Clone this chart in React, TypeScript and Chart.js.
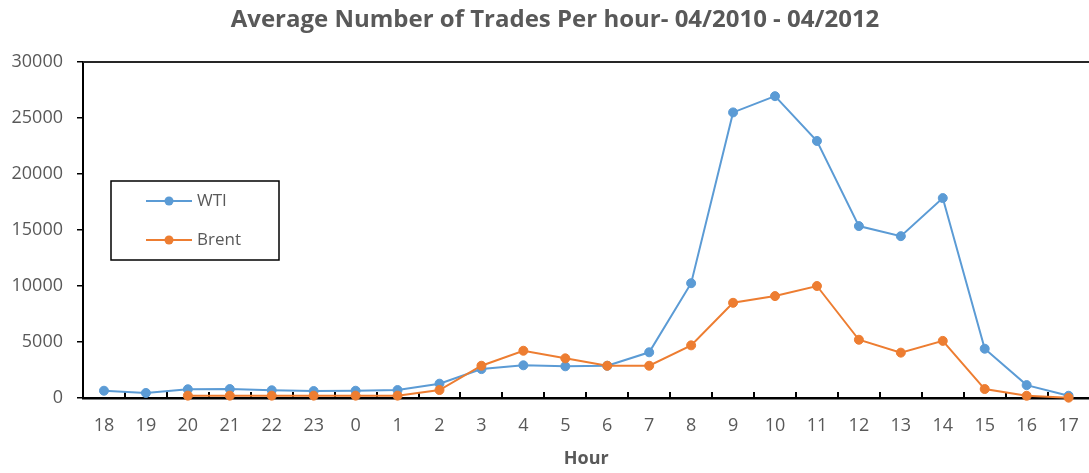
import React, { useEffect, useRef } from "react";
import { Chart, registerables } from "chart.js";

Chart.register(...registerables);

const hours = ["18", "19", "20", "21", "22", "23", "0", "1", "2", "3", "4", "5", "6", "7", "8", "9", "10", "11", "12", "13", "14", "15", "16", "17"];
const wtiValues = [650, 450, 780, 800, 690, 620, 650, 710, 1280, 2580, 2920, 2830, 2880, 4080, 10250, 25500, 26950, 22950, 15350, 14450, 17850, 4400, 1150, 200];
const brentValues = [null, null, 210, 210, 210, 210, 210, 210, 710, 2880, 4220, 3540, 2880, 2880, 4700, 8500, 9100, 10000, 5200, 4050, 5100, 800, 200, 30];
const yMax = 30000;
const yStep = 5000;
const chartTitle = "Average Number of Trades Per hour- 04/2010 - 04/2012";
const xAxisTitle = "Hour";

const FONT = "'Open Sans', 'DejaVu Sans', sans-serif";
const TEXT = "#595959";

const framePlugin = {
  id: "frame",
  afterDraw(chart: any) {
    const { ctx, chartArea } = chart;
    const x = chart.scales.x;
    ctx.save();
    // title
    ctx.fillStyle = TEXT;
    ctx.font = `bold 24px ${FONT}`;
    ctx.textAlign = "center";
    ctx.textBaseline = "middle";
    ctx.fillText(chartTitle, 555, 20);
    // top border
    ctx.strokeStyle = "#262626";
    ctx.lineWidth = 2;
    ctx.beginPath();
    ctx.moveTo(chartArea.left, chartArea.top);
    ctx.lineTo(chartArea.right + 2, chartArea.top);
    ctx.stroke();
    // legend box
    const lx = chartArea.left + 28;
    const ly = chartArea.top + 119;
    ctx.strokeStyle = "#000";
    ctx.lineWidth = 1.5;
    ctx.strokeRect(lx, ly, 168, 79);
    chart.data.datasets.forEach((ds: any, i: number) => {
      const cy = ly + 20 + i * 39;
      ctx.strokeStyle = ds.borderColor;
      ctx.lineWidth = 2;
      ctx.beginPath();
      ctx.moveTo(lx + 35, cy);
      ctx.lineTo(lx + 81, cy);
      ctx.stroke();
      ctx.fillStyle = ds.borderColor;
      ctx.beginPath();
      ctx.arc(lx + 58, cy, 4.5, 0, Math.PI * 2);
      ctx.fill();
      ctx.fillStyle = TEXT;
      ctx.font = `17px ${FONT}`;
      ctx.textAlign = "left";
      ctx.textBaseline = "middle";
      ctx.fillText(ds.label, lx + 86, cy);
    });
    ctx.restore();
  },
  beforeDatasetsDraw(chart: any) {
    const { ctx, chartArea } = chart;
    const x = chart.scales.x;
    ctx.save();
    // inward x ticks at category boundaries
    ctx.strokeStyle = "#000";
    ctx.lineWidth = 2;
    ctx.beginPath();
    for (let i = 1; i < hours.length; i++) {
      const px = Math.round((x.getPixelForValue(i - 1) + x.getPixelForValue(i)) / 2);
      ctx.moveTo(px, chartArea.bottom);
      ctx.lineTo(px, chartArea.bottom - 6);
    }
    ctx.stroke();
    ctx.restore();
  },
};

export default function App() {
  const ref = useRef<HTMLCanvasElement>(null);
  useEffect(() => {
    if (!ref.current) return;
    const chart = new Chart(ref.current, {
      type: "line",
      data: {
        labels: hours,
        datasets: [
          {
            label: "WTI",
            data: wtiValues,
            borderColor: "#5B9BD5",
            backgroundColor: "#5B9BD5",
            borderWidth: 2,
            pointRadius: 4.5,
            pointBorderWidth: 1,
            tension: 0,
            order: 1,
            clip: false,
          },
          {
            label: "Brent",
            data: brentValues as any,
            borderColor: "#ED7D31",
            backgroundColor: "#ED7D31",
            borderWidth: 2,
            pointRadius: 4.5,
            pointBorderWidth: 1,
            tension: 0,
            order: 0,
            clip: false,
          },
        ],
      },
      options: {
        responsive: false,
        animation: false,
        layout: { padding: { top: 62, right: 1, left: 0, bottom: 0 } },
        plugins: {
          legend: { display: false },
          title: { display: false },
          tooltip: { enabled: false },
        },
        scales: {
          x: {
            offset: true,
            grid: { display: true, drawOnChartArea: false, drawTicks: false, offset: true },
            border: { display: true, color: "#000", width: 2.5 },
            ticks: { color: TEXT, font: { family: FONT, size: 18 }, padding: 17, maxRotation: 0, autoSkip: false },
            title: { display: true, text: xAxisTitle, color: TEXT, font: { family: FONT, size: 18, weight: "bold" }, padding: { top: 0, bottom: 3 } },
            afterFit(scale: any) { scale.height = 75; },
          },
          y: {
            min: 0,
            max: yMax,
            grid: { display: true, drawOnChartArea: false, drawTicks: true, tickLength: 6, color: "#000", lineWidth: 1.5 },
            border: { display: true, color: "#000", width: 2 },
            ticks: { stepSize: yStep, color: TEXT, font: { family: FONT, size: 18 }, padding: 14, callback: (v: any) => String(v) },
            afterFit(scale: any) { scale.width = 83; },
          },
        },
      },
      plugins: [framePlugin],
    });
    return () => chart.destroy();
  }, []);
  return (
    <div style={{ position: "fixed", left: 0, top: 0, width: 1089, height: 473, overflow: "hidden", background: "#fff" }}>
      <canvas ref={ref} width={1096} height={473} style={{ display: "block" }} />
    </div>
  );
}
